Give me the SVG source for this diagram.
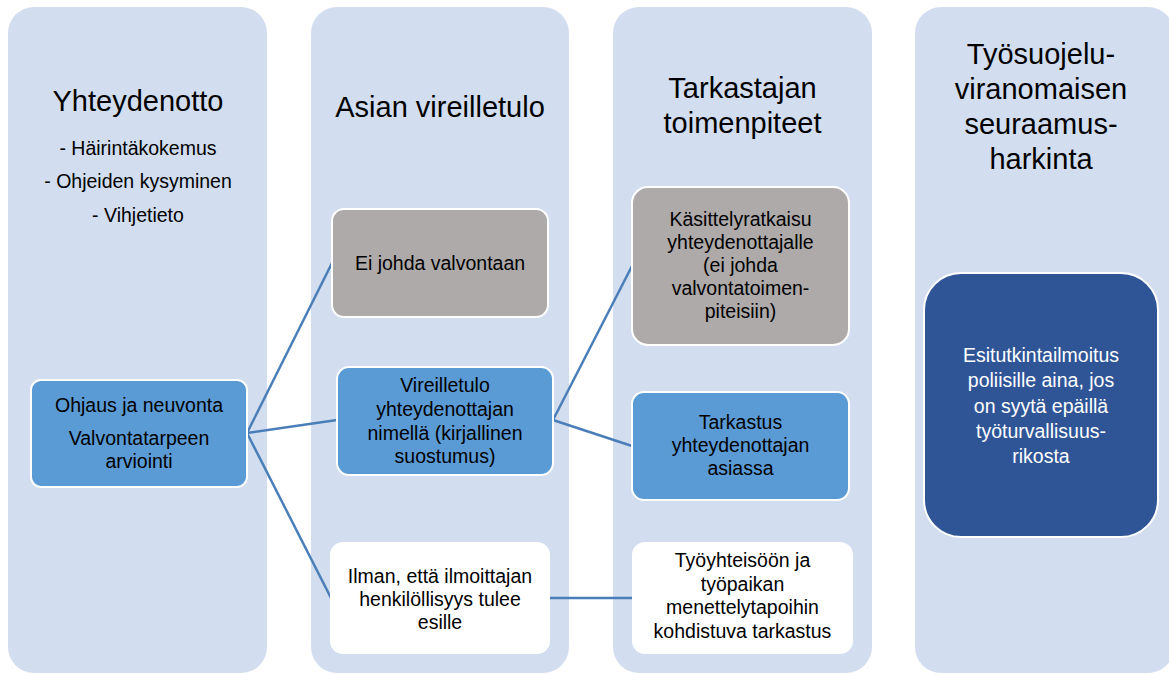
<svg xmlns="http://www.w3.org/2000/svg" width="1169" height="675" viewBox="0 0 1169 675">
<style>
.col{fill:#d2deef;}
.t{font-family:"Liberation Sans",Arial,sans-serif;text-anchor:middle;fill:#000;}
.title{font-size:29px;}
.nt{font-size:19.5px;}
.wt{fill:#fff;}
.blue{fill:#5b9bd5;stroke:#fff;stroke-width:2;}
.gray{fill:#aeaaaa;stroke:#fff;stroke-width:2;}
.white{fill:#fff;stroke:#fff;stroke-width:2;}
.dark{fill:#2f5597;stroke:#fff;stroke-width:2;}
.conn{stroke:#4a7eb8;stroke-width:2.5;fill:none;}
</style>
<rect width="1169" height="675" fill="#fff"/>
<g id="col1">
<rect class="col" x="8" y="7" width="259" height="666" rx="26"/>
<text class="t title" x="138" y="111">Yhteydenotto</text>
<text class="t nt" x="138" y="155">- Häirintäkokemus</text>
<text class="t nt" x="138" y="188">- Ohjeiden kysyminen</text>
<text class="t nt" x="138" y="222">- Vihjetieto</text>
</g>
<g id="col2">
<rect class="col" x="311" y="7" width="258" height="666" rx="26"/>
<text class="t title" x="440" y="117">Asian vireilletulo</text>
</g>
<g id="col3">
<rect class="col" x="613" y="7" width="259" height="666" rx="26"/>
<text class="t title" x="742.5" y="98">Tarkastajan</text>
<text class="t title" x="742.5" y="133">toimenpiteet</text>
</g>
<g id="col4">
<rect class="col" x="915" y="7" width="259" height="666" rx="26"/>
<text class="t title" x="1041" y="64">Työsuojelu-</text>
<text class="t title" x="1041" y="99">viranomaisen</text>
<text class="t title" x="1041" y="134">seuraamus-</text>
<text class="t title" x="1041" y="169">harkinta</text>
</g>
<g id="connectors">
<line class="conn" x1="247" y1="433" x2="332" y2="263"/>
<line class="conn" x1="247" y1="433" x2="337" y2="420"/>
<line class="conn" x1="247" y1="433" x2="331" y2="598"/>
<line class="conn" x1="553" y1="420" x2="632" y2="266"/>
<line class="conn" x1="553" y1="420" x2="632" y2="446"/>
<line class="conn" x1="549" y1="598" x2="633" y2="598"/>
</g>
<g id="ohjaus">
<rect class="blue" x="31" y="380" width="216" height="107" rx="10"/>
<text class="t nt" x="139" y="412">Ohjaus ja neuvonta</text>
<text class="t nt" x="139" y="445">Valvontatarpeen</text>
<text class="t nt" x="139" y="468">arviointi</text>
</g>
<g id="eijohda">
<rect class="gray" x="332" y="209" width="216" height="108" rx="12"/>
<text class="t nt" x="440" y="270">Ei johda valvontaan</text>
</g>
<g id="vireilletulo">
<rect class="blue" x="337" y="367" width="216" height="108" rx="12"/>
<text class="t nt" x="445" y="392">Vireilletulo</text>
<text class="t nt" x="445" y="416">yhteydenottajan</text>
<text class="t nt" x="445" y="440">nimellä (kirjallinen</text>
<text class="t nt" x="445" y="463">suostumus)</text>
</g>
<g id="ilman">
<rect class="white" x="331" y="543" width="218" height="110" rx="12"/>
<text class="t nt" x="440" y="583">Ilman, että ilmoittajan</text>
<text class="t nt" x="440" y="606">henkilöllisyys tulee</text>
<text class="t nt" x="440" y="629">esille</text>
</g>
<g id="kasittely">
<rect class="gray" x="632" y="187" width="217" height="158" rx="16"/>
<text class="t nt" x="740.5" y="226">Käsittelyratkaisu</text>
<text class="t nt" x="740.5" y="249">yhteydenottajalle</text>
<text class="t nt" x="740.5" y="272">(ei johda</text>
<text class="t nt" x="740.5" y="295">valvontatoimen-</text>
<text class="t nt" x="740.5" y="318">piteisiin)</text>
</g>
<g id="tarkastus">
<rect class="blue" x="632" y="392" width="217" height="108" rx="12"/>
<text class="t nt" x="740.5" y="429">Tarkastus</text>
<text class="t nt" x="740.5" y="452">yhteydenottajan</text>
<text class="t nt" x="740.5" y="475">asiassa</text>
</g>
<g id="tyoyhteiso">
<rect class="white" x="633" y="543" width="219" height="110" rx="12"/>
<text class="t nt" x="742.5" y="567">Työyhteisöön ja</text>
<text class="t nt" x="742.5" y="591">työpaikan</text>
<text class="t nt" x="742.5" y="614">menettelytapoihin</text>
<text class="t nt" x="742.5" y="638">kohdistuva tarkastus</text>
</g>
<g id="esitutkinta">
<rect class="dark" x="924" y="273" width="234" height="264" rx="37"/>
<text class="t nt wt" x="1041" y="362">Esitutkintailmoitus</text>
<text class="t nt wt" x="1041" y="387">poliisille aina, jos</text>
<text class="t nt wt" x="1041" y="413">on syytä epäillä</text>
<text class="t nt wt" x="1041" y="438">työturvallisuus-</text>
<text class="t nt wt" x="1041" y="463">rikosta</text>
</g>
</svg>
